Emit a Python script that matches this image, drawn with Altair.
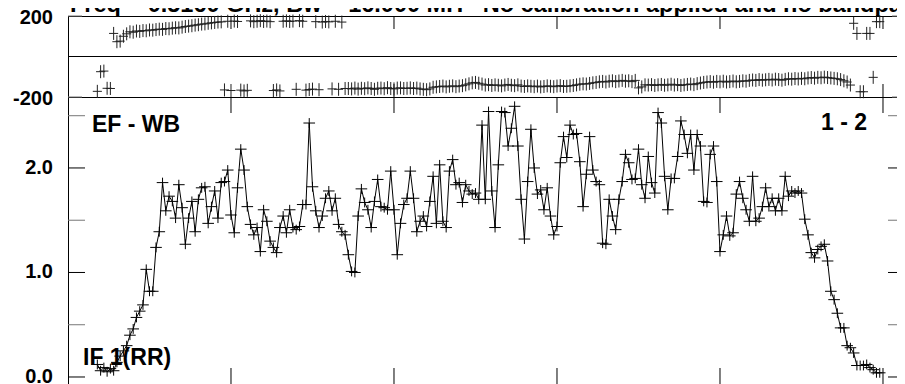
import altair as alt
import pandas as pd

FIRST_CHANNEL = 9

# Amplitude per channel (channels 9..249)
amplitude = [
    0.12, 0.06, 0.09, 0.05, 0.08, 0.06, 0.14, 0.20, 0.25, 0.30,
    0.40, 0.46, 0.57, 0.63, 0.69, 1.03, 0.82, 0.82, 1.24, 1.39,
    1.86, 1.59, 1.73, 1.68, 1.52, 1.84, 1.62, 1.27, 1.52, 1.68,
    1.39, 1.70, 1.81, 1.82, 1.47, 1.63, 1.78, 1.52, 1.86, 1.87,
    1.98, 1.55, 1.38, 1.81, 2.18, 1.98, 1.63, 1.46, 1.36, 1.43,
    1.20, 1.60, 1.49, 1.30, 1.24, 1.19, 1.43, 1.54, 1.38, 1.60,
    1.43, 1.41, 1.44,
    1.65, 1.65, 2.43, 1.82, 1.59, 1.43, 1.54, 1.71, 1.78, 1.59,
    1.71, 1.46, 1.39, 1.36, 1.17, 1.01, 1.00, 1.54, 1.80, 1.67,
    1.60, 1.43, 1.68, 1.89, 1.63, 1.62, 1.60, 1.97, 1.60, 1.17,
    1.47, 1.65, 1.71, 1.97, 1.71, 1.39, 1.49, 1.54, 1.44, 1.68,
    1.92, 1.47, 2.03, 1.49, 1.43, 1.97, 2.08, 1.84, 1.86, 1.67,
    1.84, 1.78, 1.75, 1.76, 1.70, 2.41, 1.70, 2.54, 1.78, 1.43,
    2.03, 2.54, 2.53, 2.21, 2.38, 2.59, 2.21, 1.70, 1.32, 1.87,
    2.37, 2.00, 1.75, 1.79, 1.60, 1.81, 1.54, 1.36, 1.44, 2.05,
    2.30, 2.10, 2.41, 2.32, 2.33, 2.06, 1.63, 1.94, 2.30, 1.98,
    1.87, 1.84,
    1.28, 1.27, 1.70, 1.54, 1.41, 1.70, 1.87, 2.13, 2.05, 1.89,
    1.90, 2.18, 1.84, 1.71, 2.11, 1.86, 1.76, 2.53, 2.43, 1.92,
    1.60, 1.90, 1.90, 2.11, 2.45, 2.32, 2.14, 2.32, 1.98, 2.32,
    2.21, 1.68, 1.67, 2.13, 2.21, 1.87, 1.20, 1.36, 1.54, 1.35,
    1.38, 1.75, 1.87, 1.71, 1.60, 1.49, 1.92, 1.49, 1.52, 1.63,
    1.81, 1.63, 1.71, 1.59, 1.71, 1.59, 1.92, 1.73, 1.78, 1.76,
    1.78, 1.76, 1.51, 1.36, 1.19, 1.14, 1.22, 1.25, 1.27, 1.11,
    0.82, 0.74, 0.61, 0.47, 0.47, 0.30, 0.28, 0.23, 0.11, 0.11,
    0.11, 0.12, 0.09, 0.07, 0.04, 0.04,
]

# Phase (degrees) per channel (channels 9..249)
phase = [
    -172, -75, -72, -157, -158,
    114, 73, 76, 100, 112, 122, 120, 126, 124, 128,
    127, 131, 130, 133, 135, 134, 138, 137, 140, 142,
    141, 145, 148, 150, 152, 155, 157, 160, 161, 164,
    166, 168, 170, 171,
    -165, 174, -168, 175, 173, -166, -170, -167, 176, 172,
    174, 177, 173, 175, 172, -168, -165, -170, 174, 176,
    173, 175, -162, 177, 174, -166, -163, -161, 172, -164,
    170, 173, 171, -160, 174, -162, 170, -158,
    -158, -160, -156, -161, -157, -159, -155, -158, -162, -157,
    -156, -159, -154, -158, -160, -156, -155, -158,
    -157, -155, -158, -156, -160, -162, -164, -160, -152, -150,
    -148, -146, -150, -147, -145, -149, -146, -144, -140, -135, -130,
    -128, -132, -136,
    -141, -139, -143, -140, -142, -145, -141, -138, -142, -144, -140, -146, -148, -145,
    -147, -149, -146, -150, -148, -145, -147, -149, -146, -144,
    -148, -147, -145, -143, -140, -137, -135, -136, -133,
    -130, -128, -125, -123, -126, -122, -120, -124, -121, -118, -122, -120, -124,
    -118, -155, -150, -140,
    -141, -139, -143, -140, -138, -142, -140, -137, -141, -139,
    -143, -140, -138, -136, -139, -134, -131, -128,
    -126, -124, -127, -123, -125, -122, -126, -124, -121, -125, -123, -120, -122, -118,
    -116, -118, -114, -117, -115, -113, -116, -112, -114, -117,
    -113, -110, -112, -109, -111, -108, -110,
    -106, -104, -107, -103, -105, -102, -104, -106, -108, -110, -114,
    -120, -126, -141,
    164, 114, -174, -174, 114, 114, -103, 172, 172,
]

x_tick_values = [50, 100, 150, 200, 250]
phase_bottom_ticks = [100, 250]
amp_major_ticks = [0.0, 1.0, 2.0]
amp_minor_ticks = [0.5, 1.5, 2.5]
amp_tick_labels = ["0.0", "1.0", "2.0"]
phase_ticks = [200, -200]
phase_tick_labels = ["200", "-200"]

title_text = "Freq = 0.5160 GHz, Bw = 16.000 MH\u00a0\u00a0\u00a0No calibration applied and no bandpa"
baseline_text = "EF - WB"
stokes_text = "IF 1(RR)"
antenna_text = "1 - 2"

FONT = "Liberation Sans"
W_FRAME = 837          # full frame width (right edge falls on the page border)
W, H, PH = 829, 368, 81  # drawing area kept inside the page

amp_df = pd.DataFrame({"ch": list(range(FIRST_CHANNEL, FIRST_CHANNEL + len(amplitude))), "amp": amplitude})
ph_df = pd.DataFrame({"ch": list(range(FIRST_CHANNEL, FIRST_CHANNEL + len(phase))), "phase": phase})

xs = alt.Scale(domain=[0, 256.75], range=[0, W_FRAME], nice=False, zero=False)
amp_s = alt.Scale(domain=[-0.067, 2.679], range=[H, PH], nice=False, zero=False)
ph_s = alt.Scale(domain=[-200, 200], range=[PH, 0], nice=False, zero=False)

one = pd.DataFrame({"a": [0]})

def rule_x(values, y0, y1, color="black"):
    return alt.Chart(pd.DataFrame({"v": values})).mark_rule(color=color, strokeWidth=1).encode(
        x=alt.X("v:Q", scale=xs, axis=None), y=alt.value(y0), y2=alt.value(y1))

def rule_y(values, scale, x0, x1, color):
    return alt.Chart(pd.DataFrame({"v": values})).mark_rule(color=color, strokeWidth=1).encode(
        y=alt.Y("v:Q", scale=scale, axis=None), x=alt.value(x0), x2=alt.value(x1))

def static_text(t, x, y, align="left", size=23):
    return alt.Chart(pd.DataFrame({"t": [t]})).mark_text(
        align=align, baseline="alphabetic", font=FONT, fontSize=size, fontWeight="bold", color="black"
    ).encode(x=alt.value(x), y=alt.value(y), text="t:N")

# frame
left_line = alt.Chart(one).mark_rule(color="black", strokeWidth=1).encode(
    x=alt.value(0.5), y=alt.value(0), y2=alt.value(H))
top_line = alt.Chart(one).mark_rule(color="black", strokeWidth=1).encode(
    y=alt.value(0.5), x=alt.value(0), x2=alt.value(W_FRAME))
sep_line = alt.Chart(one).mark_rule(color="black", strokeWidth=1).encode(
    y=alt.value(PH + 0.5), x=alt.value(0), x2=alt.value(W_FRAME))
zero_line = alt.Chart(pd.DataFrame({"v": [0]})).mark_rule(color="black", strokeWidth=1).encode(
    y=alt.Y("v:Q", scale=ph_s, axis=None), x=alt.value(0), x2=alt.value(W_FRAME))

# ticks
ticks = [
    rule_x(x_tick_values, 0, 13),
    rule_x(phase_bottom_ticks, PH - 13, PH),
    rule_x(x_tick_values, PH, PH + 16),
    rule_x(x_tick_values, H - 16, H),
    rule_y(amp_major_ticks, amp_s, 0, 17, "black"),
    rule_y(amp_minor_ticks, amp_s, 0, 17, "#777777"),
    rule_y(amp_major_ticks, amp_s, W_FRAME - 17, W_FRAME, "black"),
    rule_y(amp_minor_ticks, amp_s, W_FRAME - 17, W_FRAME, "#777777"),
    rule_y(phase_ticks, ph_s, 0, 14, "#777777"),
    rule_y(phase_ticks, ph_s, W_FRAME - 13, W_FRAME, "#777777"),
]

amp_labels = alt.Chart(pd.DataFrame({"v": amp_major_ticks, "t": amp_tick_labels})).mark_text(
    align="right", baseline="middle", font=FONT, fontSize=20, fontWeight="bold", color="black"
).encode(y=alt.Y("v:Q", scale=amp_s, axis=None), x=alt.value(-15), text="t:N")

ph_labels = alt.Chart(pd.DataFrame({"v": phase_ticks, "t": phase_tick_labels})).mark_text(
    align="right", baseline="middle", font=FONT, fontSize=20, fontWeight="bold", color="black", dy=2
).encode(y=alt.Y("v:Q", scale=ph_s, axis=None), x=alt.value(-15), text="t:N")

amp_line = alt.Chart(amp_df).mark_line(color="black", strokeWidth=1).encode(
    x=alt.X("ch:Q", scale=xs, axis=None), y=alt.Y("amp:Q", scale=amp_s, axis=None))
amp_pts = alt.Chart(amp_df).mark_point(
    shape="M-1,0H1M0,-0.85V0.85", size=135, filled=False, color="black", strokeWidth=1, opacity=1
).encode(x=alt.X("ch:Q", scale=xs, axis=None), y=alt.Y("amp:Q", scale=amp_s, axis=None))

ph_pts = alt.Chart(ph_df).mark_point(
    shape="M-0.7,0H0.7M0,-1V1", size=169, filled=False, color="#222222", strokeWidth=1, opacity=1
).encode(x=alt.X("ch:Q", scale=xs, axis=None), y=alt.Y("phase:Q", scale=ph_s, axis=None))

texts = [
    static_text(title_text, 2, -4, size=23.5),
    static_text(baseline_text, 24, 116),
    static_text(antenna_text, 799, 114, align="right"),
    static_text(stokes_text, 15, 349),
]

chart = alt.layer(
    left_line, top_line, sep_line, zero_line, *ticks,
    amp_labels, ph_labels, amp_line, amp_pts, ph_pts, *texts
).resolve_scale(y="independent").properties(
    width=W, height=H,
    autosize=alt.AutoSizeParams(type="none"),
    padding={"left": 60, "top": 8, "right": 0, "bottom": 0},
).configure_view(stroke=None)

chart.save("out.html", embed_options={"renderer": "svg", "actions": False})
